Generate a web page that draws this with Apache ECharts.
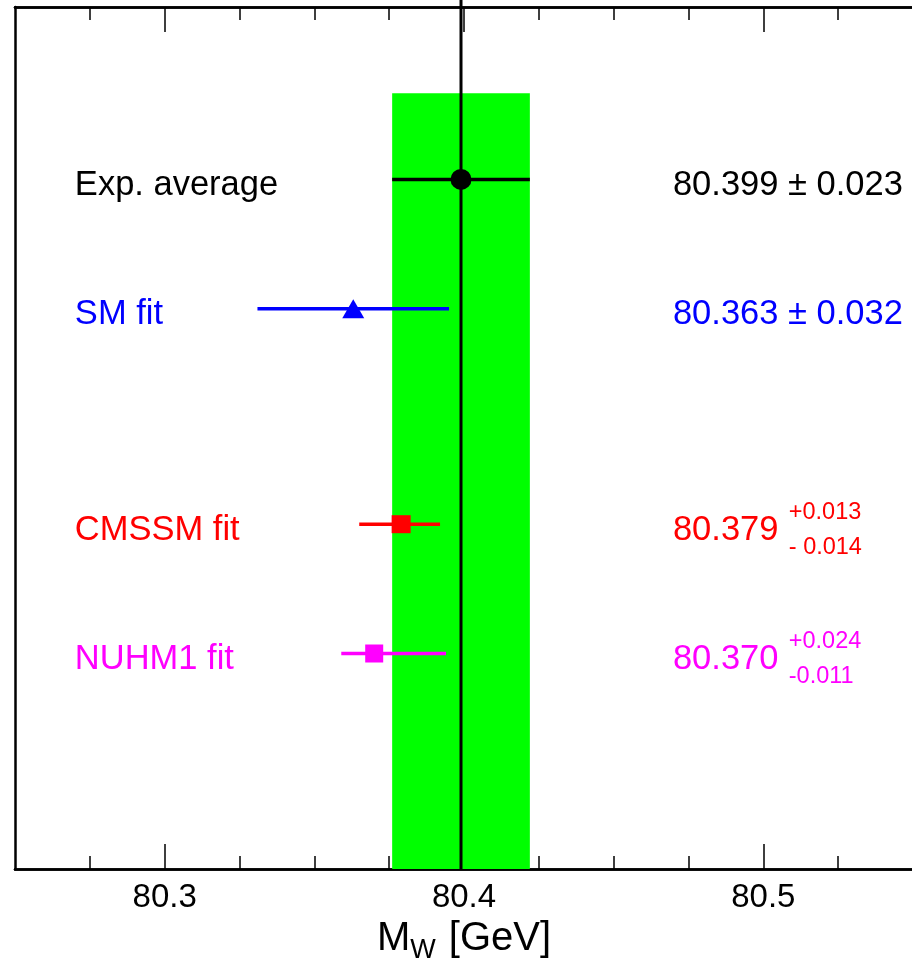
<!DOCTYPE html>
<html>
<head>
<meta charset="utf-8">
<script src="https://cdn.jsdelivr.net/npm/echarts@6/dist/echarts.min.js"></script>
<style>
html,body{margin:0;padding:0;background:#fff;}
#chart{width:912px;height:963px;}
</style>
</head>
<body>
<div id="chart"></div>
<script>
// ---- data ----
const names = ['Exp. average', 'SM fit', 'CMSSM fit', 'NUHM1 fit'];
const centralValues = [80.399, 80.363, 80.379, 80.370];
const errPlus = [0.023, 0.032, 0.013, 0.024];
const errMinus = [0.023, 0.032, 0.014, 0.011];
const rowPositions = [8, 6.5, 4, 2.5];
const valueTexts = ['80.399 ± 0.023', '80.363 ± 0.032', '80.379', '80.370'];
const upperTexts = [null, null, '+0.013', '+0.024'];
const lowerTexts = [null, null, '- 0.014', '-0.011'];
const majorTicks = [80.3, 80.4, 80.5];
const tickLabels = ['80.3', '80.4', '80.5'];

// ---- style ----
const colors = ['#000000', '#0000ff', '#ff0000', '#ff00ff'];
const symbols = ['circle', 'triangle', 'rect', 'rect'];
const symbolSizes = [21, [22, 19], [19, 18], [18, 18]];
const FONT = '"Liberation Sans", Arial, Helvetica, sans-serif';
const X_MIN = 80.25, X_MAX = 80.55, Y_MIN = 0, Y_MAX = 10;
const NAME_X = 80.27, VALUE_X = 80.4698, SUP_X = 80.5085;
const BAND_TOP = 9;

const expIdx = 0;
const bandLo = centralValues[expIdx] - errMinus[expIdx];
const bandHi = centralValues[expIdx] + errPlus[expIdx];

const series = [];

// green band (experimental average)
series.push({
  type: 'line', data: [], silent: true, z: 1,
  markArea: {
    silent: true,
    itemStyle: { color: '#00ff00', opacity: 1 },
    data: [[{ xAxis: bandLo, yAxis: Y_MIN }, { xAxis: bandHi, yAxis: BAND_TOP }]]
  }
});

// vertical line at experimental value
series.push({
  type: 'line', clip: false, symbol: 'none', z: 3, silent: true,
  lineStyle: { color: '#000', width: 3 },
  data: [[centralValues[expIdx], Y_MIN], [centralValues[expIdx], 10.1]]
});

function textSeries(x, y, color, formatter, fontSize, rich) {
  return {
    type: 'scatter', symbolSize: 0, z: 6, silent: true,
    itemStyle: { opacity: 1, color: color },
    data: [[x, y]],
    label: {
      show: true, position: 'right', distance: 0, offset: [0, 6],
      formatter: formatter, color: color, opacity: 1,
      fontSize: fontSize, fontFamily: FONT, rich: rich
    }
  };
}

names.forEach((n, i) => {
  const y = rowPositions[i];
  series.push({
    type: 'line', symbol: 'none', z: 4, silent: true,
    lineStyle: { color: colors[i], width: 3.5 },
    data: [[centralValues[i] - errMinus[i], y], [centralValues[i] + errPlus[i], y]]
  });
  series.push({
    type: 'scatter', z: 5, silent: true,
    symbol: symbols[i], symbolSize: symbolSizes[i],
    itemStyle: { color: colors[i], opacity: 1 },
    data: [[centralValues[i], y]]
  });
  series.push(textSeries(NAME_X, y, colors[i], n, 34.5));
  series.push(textSeries(VALUE_X, y, colors[i], valueTexts[i], 34.5));
  if (upperTexts[i]) {
    series.push(textSeries(SUP_X, y, colors[i],
      '{s|' + upperTexts[i] + '}\n{s|' + lowerTexts[i] + '}', 23.5,
      { s: { fontSize: 23.5, lineHeight: 35, color: colors[i], fontFamily: FONT } }));
  }
});

const minorTickVals = [];
for (let k = 1; k < 12; k++) minorTickVals.push(+(X_MIN + k * 0.025).toFixed(3));

function xAx(pos, tickVals, len, extra) {
  return Object.assign({
    type: 'value', position: pos, min: X_MIN, max: X_MAX,
    axisLine: { show: true, onZero: false, lineStyle: { color: '#000', width: 2.5 } },
    axisTick: { show: true, inside: true, length: len, customValues: tickVals,
      lineStyle: { color: '#000', width: 1.5 } },
    axisLabel: { show: false },
    splitLine: { show: false }
  }, extra || {});
}

const option = {
  backgroundColor: '#fff',
  animation: false,
  grid: { left: 15, right: -1, top: 7, bottom: 94, containLabel: false, outerBoundsMode: 'none' },
  xAxis: [
    xAx('bottom', minorTickVals, 13, {
      axisLabel: {
        show: true, customValues: majorTicks, margin: 12,
        formatter: v => tickLabels[majorTicks.findIndex(m => Math.abs(m - v) < 1e-6)] || '',
        color: '#000', fontSize: 33, fontFamily: FONT
      },
      name: 'M{sub|W} [GeV]', nameLocation: 'middle', nameGap: 40,
      nameTextStyle: {
        color: '#000', fontSize: 40, fontFamily: FONT,
        rich: { sub: { fontSize: 27, fontFamily: FONT, color: '#000', padding: [24, 2, 0, 0] } }
      }
    }),
    xAx('bottom', majorTicks, 25),
    xAx('top', minorTickVals, 13),
    xAx('top', majorTicks, 25)
  ],
  yAxis: [
    { type: 'value', position: 'left', min: Y_MIN, max: Y_MAX,
      axisLine: { show: true, lineStyle: { color: '#000', width: 2.5 } },
      axisTick: { show: false }, axisLabel: { show: false }, splitLine: { show: false } },
    { type: 'value', position: 'right', min: Y_MIN, max: Y_MAX,
      axisLine: { show: true, lineStyle: { color: '#000', width: 2.5 } },
      axisTick: { show: false }, axisLabel: { show: false }, splitLine: { show: false } }
  ],
  series: series
};

const chart = echarts.init(document.getElementById('chart'), null, { renderer: 'canvas' });
chart.setOption(option);
</script>
</body>
</html>
